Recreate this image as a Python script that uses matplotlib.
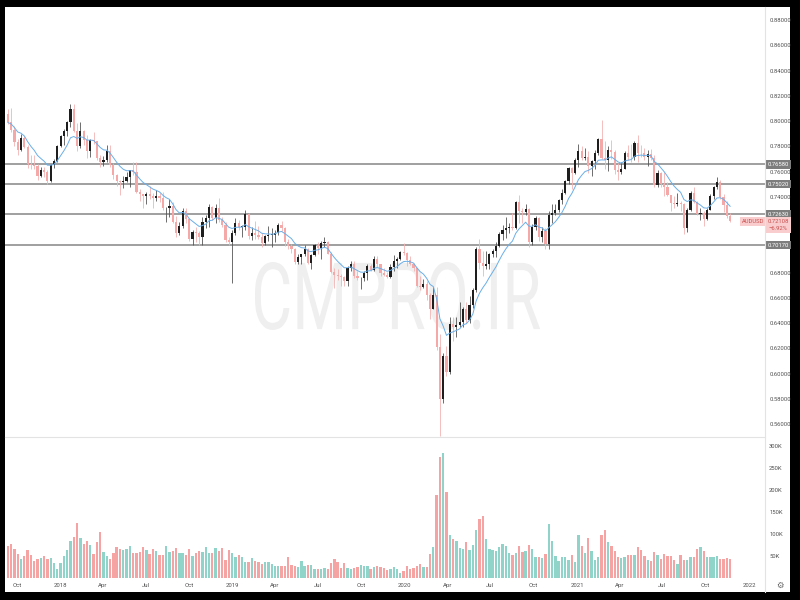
import numpy as np
import pandas as pd
import matplotlib
matplotlib.use('Agg')
import matplotlib.pyplot as plt
import matplotlib.dates as mdates
from matplotlib.patches import Rectangle, PathPatch
from matplotlib.lines import Line2D
from matplotlib.textpath import TextPath
from matplotlib.font_manager import FontProperties
from matplotlib.transforms import Affine2D, blended_transform_factory

plt.rcParams['font.family'] = ['Roboto', 'DejaVu Sans']

# weekly AUDUSD candles, first bar is the week of 2017-09-11
first_date = '2017-09-11'
first_open = 0.8055

close = [
    0.7990, 0.7930, 0.7835, 0.7775, 0.7865, 0.7795, 0.7660, 0.7650, 0.7645, 0.7565,
    0.7610, 0.7595, 0.7525, 0.7650, 0.7685, 0.7805, 0.7880, 0.7925, 0.7990, 0.8100,
    0.7920, 0.7805, 0.7925, 0.7850, 0.7765, 0.7850, 0.7840, 0.7710, 0.7680, 0.7695,
    0.7760, 0.7655, 0.7570, 0.7525, 0.7515, 0.7525, 0.7560, 0.7610, 0.7600, 0.7440,
    0.7420, 0.7405, 0.7425, 0.7405, 0.7395, 0.7410, 0.7390, 0.7310, 0.7315, 0.7330,
    0.7200, 0.7115, 0.7170, 0.7290, 0.7225, 0.7070, 0.7125, 0.7110, 0.7080, 0.7200,
    0.7230, 0.7320, 0.7230, 0.7315, 0.7215, 0.7175, 0.7060, 0.7045, 0.7110, 0.7195,
    0.7165, 0.7165, 0.7265, 0.7090, 0.7110, 0.7100, 0.7085, 0.7035, 0.7090, 0.7100,
    0.7100, 0.7115, 0.7175, 0.7150, 0.7040, 0.7010, 0.6990, 0.6885, 0.6925, 0.6945,
    0.6985, 0.6880, 0.6940, 0.7020, 0.6995, 0.7035, 0.7040, 0.6950, 0.6805, 0.6780,
    0.6770, 0.6765, 0.6735, 0.6840, 0.6870, 0.6775, 0.6755, 0.6755, 0.6800, 0.6855,
    0.6820, 0.6910, 0.6865, 0.6800, 0.6780, 0.6765, 0.6845, 0.6890, 0.6905, 0.6965,
    0.6955, 0.6900, 0.6870, 0.6835, 0.6690, 0.6685, 0.6710, 0.6620, 0.6515, 0.6620,
    0.6210, 0.5800, 0.6140, 0.6010, 0.6395, 0.6370, 0.6385, 0.6405, 0.6515, 0.6425,
    0.6545, 0.6665, 0.6990, 0.6875, 0.6855, 0.6865, 0.6945, 0.6975, 0.7010, 0.7105,
    0.7140, 0.7155, 0.7165, 0.7155, 0.7360, 0.7285, 0.7280, 0.7305, 0.7040, 0.7165,
    0.7230, 0.7085, 0.7130, 0.7030, 0.7260, 0.7270, 0.7300, 0.7375, 0.7430, 0.7525,
    0.7630, 0.7590, 0.7690, 0.7765, 0.7710, 0.7720, 0.7645, 0.7685, 0.7745, 0.7855,
    0.7705, 0.7690, 0.7770, 0.7755, 0.7615, 0.7600, 0.7625, 0.7750, 0.7720, 0.7715,
    0.7830, 0.7750, 0.7745, 0.7715, 0.7740, 0.7710, 0.7495, 0.7590, 0.7505, 0.7475,
    0.7415, 0.7355, 0.7345, 0.7350, 0.7345, 0.7150, 0.7300, 0.7430, 0.7360, 0.7265,
    0.7270, 0.7225, 0.7300, 0.7410, 0.7475, 0.7520, 0.7400, 0.7335, 0.7245, 0.7211,
]

high = [
    0.8100, 0.8103, 0.7960, 0.7860, 0.7897, 0.7880, 0.7810, 0.7730, 0.7730, 0.7660,
    0.7640, 0.7640, 0.7615, 0.7660, 0.7700, 0.7810, 0.7890, 0.7935, 0.8000, 0.8136,
    0.8136, 0.7985, 0.7990, 0.7930, 0.7890, 0.7860, 0.7917, 0.7845, 0.7735, 0.7725,
    0.7810, 0.7810, 0.7665, 0.7580, 0.7535, 0.7565, 0.7600, 0.7615, 0.7675, 0.7677,
    0.7460, 0.7425, 0.7435, 0.7485, 0.7430, 0.7455, 0.7430, 0.7440, 0.7320, 0.7380,
    0.7360, 0.7250, 0.7200, 0.7315, 0.7315, 0.7230, 0.7140, 0.7160, 0.7130, 0.7240,
    0.7260, 0.7340, 0.7330, 0.7340, 0.7394, 0.7240, 0.7200, 0.7080, 0.7140, 0.7235,
    0.7220, 0.7180, 0.7296, 0.7275, 0.7160, 0.7206, 0.7170, 0.7110, 0.7100, 0.7170,
    0.7150, 0.7140, 0.7190, 0.7206, 0.7160, 0.7070, 0.7030, 0.6995, 0.6950, 0.6950,
    0.7020, 0.6995, 0.6945, 0.7025, 0.7040, 0.7050, 0.7082, 0.7050, 0.6960, 0.6835,
    0.6825, 0.6790, 0.6770, 0.6850, 0.6895, 0.6895, 0.6810, 0.6765, 0.6815, 0.6865,
    0.6865, 0.6930, 0.6930, 0.6870, 0.6835, 0.6805, 0.6865, 0.6940, 0.6920, 0.6975,
    0.7032, 0.6965, 0.6935, 0.6880, 0.6840, 0.6775, 0.6750, 0.6730, 0.6640, 0.6685,
    0.6685, 0.6315, 0.6165, 0.6215, 0.6445, 0.6445, 0.6445, 0.6570, 0.6530, 0.6570,
    0.6615, 0.6680, 0.7000, 0.7064, 0.6975, 0.6975, 0.6955, 0.6985, 0.7040, 0.7125,
    0.7180, 0.7240, 0.7190, 0.7275, 0.7365, 0.7415, 0.7315, 0.7345, 0.7310, 0.7185,
    0.7245, 0.7240, 0.7160, 0.7155, 0.7290, 0.7340, 0.7340, 0.7385, 0.7460, 0.7530,
    0.7640, 0.7640, 0.7705, 0.7820, 0.7805, 0.7785, 0.7760, 0.7690, 0.7775, 0.7865,
    0.8007, 0.7840, 0.7800, 0.7850, 0.7775, 0.7670, 0.7675, 0.7760, 0.7815, 0.7820,
    0.7840, 0.7890, 0.7815, 0.7790, 0.7775, 0.7780, 0.7735, 0.7610, 0.7600, 0.7600,
    0.7515, 0.7415, 0.7410, 0.7430, 0.7370, 0.7350, 0.7315, 0.7445, 0.7480, 0.7370,
    0.7315, 0.7285, 0.7315, 0.7425, 0.7490, 0.7556, 0.7535, 0.7420, 0.7370, 0.7275,
]

low = [
    0.7975, 0.7915, 0.7805, 0.7733, 0.7760, 0.7785, 0.7630, 0.7625, 0.7625, 0.7530,
    0.7555, 0.7560, 0.7502, 0.7515, 0.7630, 0.7680, 0.7795, 0.7810, 0.7880, 0.7950,
    0.7915, 0.7760, 0.7790, 0.7810, 0.7710, 0.7720, 0.7820, 0.7690, 0.7640, 0.7645,
    0.7680, 0.7640, 0.7545, 0.7490, 0.7412, 0.7470, 0.7515, 0.7480, 0.7570, 0.7430,
    0.7365, 0.7310, 0.7340, 0.7380, 0.7310, 0.7370, 0.7360, 0.7295, 0.7200, 0.7240,
    0.7190, 0.7085, 0.7100, 0.7150, 0.7190, 0.7050, 0.7020, 0.7040, 0.7020, 0.7020,
    0.7150, 0.7165, 0.7215, 0.7195, 0.7200, 0.7160, 0.7040, 0.7015, 0.6720, 0.7100,
    0.7140, 0.7085, 0.7140, 0.7070, 0.7055, 0.7070, 0.7070, 0.7005, 0.7020, 0.7050,
    0.7005, 0.7040, 0.7095, 0.7130, 0.7010, 0.6990, 0.6955, 0.6865, 0.6865, 0.6865,
    0.6935, 0.6865, 0.6830, 0.6930, 0.6950, 0.6910, 0.7000, 0.6945, 0.6800, 0.6677,
    0.6745, 0.6690, 0.6690, 0.6690, 0.6810, 0.6760, 0.6740, 0.6670, 0.6730, 0.6745,
    0.6810, 0.6810, 0.6845, 0.6775, 0.6770, 0.6755, 0.6755, 0.6810, 0.6840, 0.6900,
    0.6940, 0.6850, 0.6860, 0.6810, 0.6685, 0.6660, 0.6680, 0.6585, 0.6435, 0.6510,
    0.6190, 0.5506, 0.5770, 0.5980, 0.6000, 0.6255, 0.6290, 0.6370, 0.6370, 0.6400,
    0.6400, 0.6520, 0.6645, 0.6830, 0.6775, 0.6830, 0.6830, 0.6920, 0.6925, 0.7005,
    0.7060, 0.7075, 0.7110, 0.7135, 0.7145, 0.7190, 0.7190, 0.7255, 0.7005, 0.7020,
    0.7135, 0.7050, 0.7040, 0.6990, 0.6990, 0.7190, 0.7255, 0.7280, 0.7340, 0.7420,
    0.7500, 0.7460, 0.7580, 0.7640, 0.7690, 0.7690, 0.7590, 0.7565, 0.7620, 0.7735,
    0.7700, 0.7620, 0.7605, 0.7700, 0.7580, 0.7530, 0.7585, 0.7620, 0.7690, 0.7680,
    0.7690, 0.7675, 0.7720, 0.7695, 0.7645, 0.7690, 0.7475, 0.7480, 0.7475, 0.7410,
    0.7410, 0.7290, 0.7315, 0.7330, 0.7290, 0.7105, 0.7120, 0.7285, 0.7355, 0.7260,
    0.7220, 0.7170, 0.7220, 0.7295, 0.7385, 0.7460, 0.7385, 0.7280, 0.7230, 0.7200,
]

# weekly volume in thousands
volume_k = [
    72, 77, 67, 55, 43, 51, 63, 53, 39, 43,
    45, 49, 44, 45, 33, 20, 33, 51, 64, 85,
    93, 126, 91, 77, 85, 76, 55, 81, 104, 59,
    51, 43, 57, 70, 66, 63, 65, 73, 57, 56,
    59, 70, 63, 55, 67, 62, 53, 53, 73, 59,
    62, 68, 57, 57, 52, 67, 51, 56, 61, 59,
    70, 57, 57, 68, 61, 68, 41, 64, 57, 48,
    52, 47, 36, 36, 45, 38, 36, 32, 36, 36,
    32, 27, 27, 27, 27, 47, 30, 27, 25, 38,
    28, 29, 29, 21, 21, 21, 22, 20, 33, 43,
    36, 23, 33, 23, 21, 23, 24, 29, 28, 27,
    20, 25, 27, 24, 23, 18, 21, 24, 20,
    11, 17, 28, 21, 23, 28, 32, 26, 24, 55,
    70, 189, 274, 283, 195, 98, 89, 83, 68, 66,
    81, 64, 76, 108, 134, 141, 89, 66, 64, 62,
    70, 78, 72, 57, 53, 57, 73, 59, 61, 74,
    67, 48, 47, 45, 55, 123, 83, 51, 39, 47,
    47, 41, 52, 37, 98, 72, 56, 90, 61, 42,
    48, 98, 108, 82, 72, 61, 48, 45, 48, 53,
    52, 53, 70, 63, 49, 42, 38, 60, 53, 43,
    54, 50, 50, 42, 32, 52, 42, 42, 48, 47,
    66, 70, 62, 48, 48, 48, 49, 43, 43, 45,
    43,
]

levels = [0.76580, 0.75020, 0.72630, 0.70170]
price_ticks = [0.56, 0.58, 0.60, 0.62, 0.64, 0.66, 0.68, 0.70, 0.72,
               0.74, 0.76, 0.78, 0.80, 0.82, 0.84, 0.86, 0.88]
volume_ticks = [50, 100, 150, 200, 250, 300]
time_tick_dates = ['2017-10-01', '2018-01-01', '2018-04-01', '2018-07-01', '2018-10-01',
                   '2019-01-01', '2019-04-01', '2019-07-01', '2019-10-01',
                   '2020-01-01', '2020-04-01', '2020-07-01', '2020-10-01',
                   '2021-01-01', '2021-04-01', '2021-07-01', '2021-10-01', '2022-01-01']
time_tick_labels = ['Oct', '2018', 'Apr', 'Jul', 'Oct', '2019', 'Apr', 'Jul', 'Oct',
                    '2020', 'Apr', 'Jul', 'Oct', '2021', 'Apr', 'Jul', 'Oct', '2022']
symbol = 'AUDUSD'
last_price = '0.72108'
last_change = '\u22126.92%'
watermark = 'CMPRO.IR'

# build arrays
n = min(len(close), len(high), len(low), len(volume_k))
dates = pd.date_range(first_date, periods=n, freq='7D')
x = mdates.date2num(dates)
c = np.array(close[:n])
h = np.array(high[:n])
l = np.array(low[:n])
o = np.concatenate([[first_open], c[:-1]])
up = c >= o
vol = np.array(volume_k[:n]) * 1000
ma = pd.Series(c).ewm(span=9, adjust=False).mean().values

W, H = 800, 600
fig = plt.figure(figsize=(8, 6), dpi=100, facecolor='black')

# white chart panel inside the black frame
fig.add_artist(Rectangle((5 / W, 8 / H), 785 / W, 585 / H, transform=fig.transFigure,
                         facecolor='white', edgecolor='none', zorder=-10))

# watermark
tp = TextPath((0, 0), watermark, size=100, prop=FontProperties(family='Roboto'))
ext = tp.get_extents()
tr = (Affine2D().translate(-ext.x0, -ext.y0)
      .scale(285 / W / ext.width, 68 / H / ext.height)
      .translate(255 / W, 270 / H))
fig.add_artist(PathPatch(tp, transform=tr + fig.transFigure, facecolor='#efefef',
                         edgecolor='none', zorder=-9))

ax = fig.add_axes([5 / W, 163 / H, 760 / W, 430 / H], facecolor='none')
axv = fig.add_axes([5 / W, 22 / H, 760 / W, 140 / H], facecolor='none', sharex=ax)

# candles
body_col = np.where(up, '#1e1e1e', '#f5a8a8')
wick_col = np.where(up, '#555555', '#f3b3b3')
ax.vlines(x, l, h, colors=wick_col, linewidth=0.6, zorder=2)
ax.bar(x, np.maximum(np.abs(c - o), 0.0005), width=4.6, bottom=np.minimum(o, c),
       color=body_col, linewidth=0, zorder=3)
ax.plot(x, ma, color='#6aaee8', linewidth=0.7, zorder=4)
for lv in levels:
    ax.axhline(lv, color='#858585', linewidth=1.1, zorder=1)

ax.set_xlim(mdates.date2num(pd.Timestamp('2017-09-05')), mdates.date2num(pd.Timestamp('2022-02-04')))
ax.set_ylim(0.5497, 0.8905)
ax.yaxis.tick_right()
ax.set_yticks(price_ticks)
ax.set_yticklabels([f'{t:.5f}' for t in price_ticks])
ax.tick_params(axis='y', length=0, pad=3, labelsize=4.2, labelcolor='#505050')
ax.tick_params(axis='x', length=0, labelbottom=False)
for s in ax.spines.values():
    s.set_visible(False)

# level labels on the price scale
trans = blended_transform_factory(ax.transAxes, ax.transData)
for lv in levels:
    ax.text(1.004, lv, f'{lv:.5f}', transform=trans, ha='left', va='center', fontsize=4.2,
            color='white', bbox=dict(boxstyle='square,pad=0.3', fc='#7d7d7d', ec='none'),
            clip_on=False, zorder=6)

# current price labels, sitting just under the 0.72630 box
ax.text(0.9995, c[-1] - 0.0006, symbol, transform=trans, ha='right', va='center', fontsize=4.2,
        color='#c94f4f', bbox=dict(boxstyle='square,pad=0.35', fc='#f9cdcd', ec='none'),
        clip_on=False, zorder=6)
ax.text(1.004, c[-1] - 0.0034, f'{last_price}\n{last_change}', transform=trans, ha='left',
        va='center', fontsize=4.2, color='#c94f4f', linespacing=1.4,
        bbox=dict(boxstyle='square,pad=0.3', fc='#f9cdcd', ec='none'),
        clip_on=False, zorder=6)

# volume
axv.bar(x, vol, width=5.0, color=np.where(up, '#8fd3c9', '#f6a3a3'), linewidth=0)
axv.set_ylim(0, 318000)
axv.yaxis.tick_right()
axv.set_yticks([v * 1000 for v in volume_ticks])
axv.set_yticklabels([f'{v}K' for v in volume_ticks])
axv.tick_params(axis='y', length=0, pad=3, labelsize=4.2, labelcolor='#505050')
axv.set_xticks(mdates.date2num(pd.to_datetime(time_tick_dates)))
axv.set_xticklabels(time_tick_labels)
axv.tick_params(axis='x', length=0, pad=3.5, labelsize=4.3, labelcolor='#505050')
for s in axv.spines.values():
    s.set_visible(False)

# pane separators
fig.add_artist(Line2D([5 / W, 765 / W], [163 / H, 163 / H], color='#e3e3e3', linewidth=0.8))
fig.add_artist(Line2D([765 / W, 765 / W], [8 / H, 593 / H], color='#e3e3e3', linewidth=0.8))
fig.text(780 / W, 15 / H, '\u2699', fontsize=6, color='#666666', ha='center', va='center',
         family=['DejaVu Sans'])

fig.savefig('out.png', dpi=100, facecolor=fig.get_facecolor())
